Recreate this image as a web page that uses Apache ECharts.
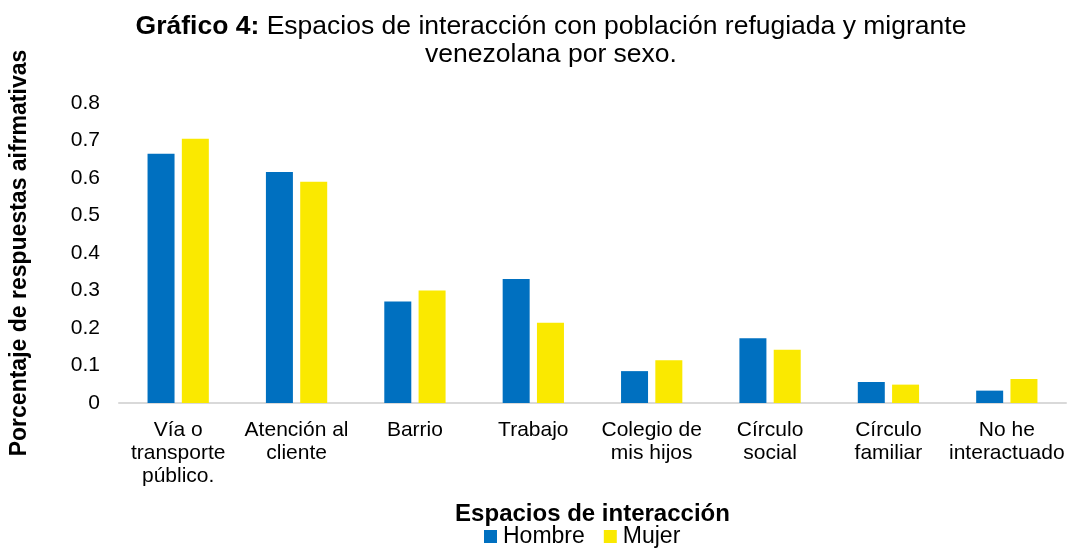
<!DOCTYPE html>
<html>
<head>
<meta charset="utf-8">
<script src="https://cdn.jsdelivr.net/npm/echarts@6/dist/echarts.min.js"></script>
<style>
  html, body { margin: 0; padding: 0; background: #fff; }
  #chart { width: 1078px; height: 549px; }
</style>
</head>
<body>
<div id="chart"></div>
<script>
  // ==== datos ====
  const categories = [
    'Vía o\ntransporte\npúblico.',
    'Atención al\ncliente',
    'Barrio',
    'Trabajo',
    'Colegio de\nmis hijos',
    'Círculo\nsocial',
    'Círculo\nfamiliar',
    'No he\ninteractuado'
  ]
  const hombre = [0.665, 0.616, 0.271, 0.331, 0.085, 0.173, 0.056, 0.033]
  const mujer = [0.705, 0.59, 0.3, 0.214, 0.114, 0.142, 0.049, 0.064]
  const seriesNames = ['Hombre', 'Mujer']

  const FONT = '"Liberation Sans", Arial, sans-serif'

  const chart = echarts.init(document.getElementById('chart'))

  chart.setOption({
    animation: false,
    textStyle: { fontFamily: FONT, color: '#000' },
    // título como texto gráfico para poder centrarlo en x = 550
    graphic: [
      {
        type: 'text',
        x: 551,
        y: 13,
        style: {
          text: '{b|Gráfico 4:} Espacios de interacción con población refugiada y migrante\nvenezolana por sexo.',
          align: 'center',
          verticalAlign: 'top',
          fill: '#000',
          font: '26.5px ' + FONT,
          lineHeight: 28,
          rich: {
            b: { fontSize: 26.5, fontWeight: 'bold', fill: '#000', fontFamily: FONT, lineHeight: 28 }
          }
        }
      }
    ],
    legend: {
      top: 525,
      left: 484,
      padding: 0,
      itemWidth: 13,
      itemHeight: 13,
      itemGap: 19,
      icon: 'rect',
      textStyle: { fontSize: 23, color: '#000', fontFamily: FONT, padding: [0, 0, 0, 1] },
      data: seriesNames
    },
    grid: { left: 116, right: 12, top: 103, bottom: 146 },
    xAxis: {
      type: 'category',
      data: categories,
      name: 'Espacios de interacción',
      nameLocation: 'middle',
      nameGap: 99,
      nameTextStyle: { fontSize: 24, fontWeight: 'bold', color: '#000', fontFamily: FONT },
      axisLine: { lineStyle: { color: '#d9d9d9', width: 2 } },
      axisTick: { show: false },
      axisLabel: {
        interval: 0,
        fontSize: 21,
        lineHeight: 23,
        margin: 16,
        color: '#000',
        fontFamily: FONT
      }
    },
    yAxis: {
      type: 'value',
      min: 0,
      max: 0.8,
      interval: 0.1,
      name: 'Porcentaje de respuestas aifrmativas',
      nameLocation: 'middle',
      nameGap: 88,
      nameTextStyle: { fontSize: 23, fontWeight: 'bold', color: '#000', fontFamily: FONT },
      axisLine: { show: false },
      axisTick: { show: false },
      splitLine: { show: false },
      axisLabel: {
        fontSize: 21,
        margin: 19,
        color: '#000',
        fontFamily: FONT,
        formatter: (v) => (v === 0 ? '0' : v.toFixed(1))
      }
    },
    series: [
      {
        name: seriesNames[0],
        type: 'bar',
        data: hombre,
        barWidth: 27,
        barGap: '27%',
        itemStyle: { color: '#0070C0' }
      },
      {
        name: seriesNames[1],
        type: 'bar',
        data: mujer,
        barWidth: 27,
        itemStyle: { color: '#FAE900' }
      }
    ]
  })
</script>
</body>
</html>
